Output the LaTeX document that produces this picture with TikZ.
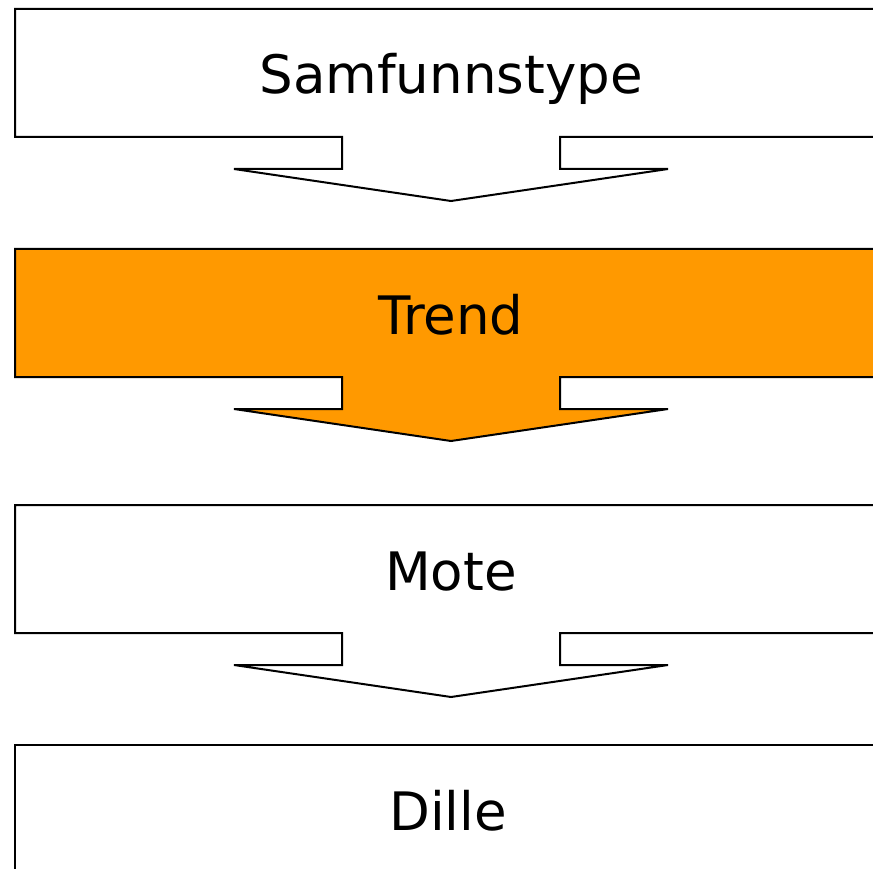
\documentclass[tikz,border=0pt]{standalone}
\usepackage{fontspec}
\setmainfont{DejaVu Sans}
\definecolor{trendorange}{HTML}{FF9900}
\tikzset{
  arrowbox/.style={draw=black, line width=2pt, line join=miter},
  label/.style={anchor=base, font=\fontsize{53}{60}\selectfont, inner sep=0pt}
}
\begin{document}
\begin{tikzpicture}[x=1pt,y=-1pt]
\useasboundingbox (0,0) rectangle (873,869);
\clip (0,0) rectangle (873,869);
\foreach \t/\f in {9/white, 249/trendorange, 505/white}{
  \draw[arrowbox, fill=\f] (15,\t) -- (900,\t) -- (900,\t+128) -- (560,\t+128) -- (560,\t+160)
    -- (668,\t+160) -- (451,\t+192) -- (234,\t+160) -- (342,\t+160) -- (342,\t+128)
    -- (15,\t+128) -- cycle;
}
\draw[arrowbox, fill=white] (15,900) -- (15,745) -- (900,745) -- (900,900);
\node[label] (samf) at (451,94) {Samfunnstype};
\node[label] (trend) at (451,334) {Trend};
\node[label] (mote) at (451,590) {Mote};
\node[label] (dille) at (448,830) {Dille};
\end{tikzpicture}
\end{document}
